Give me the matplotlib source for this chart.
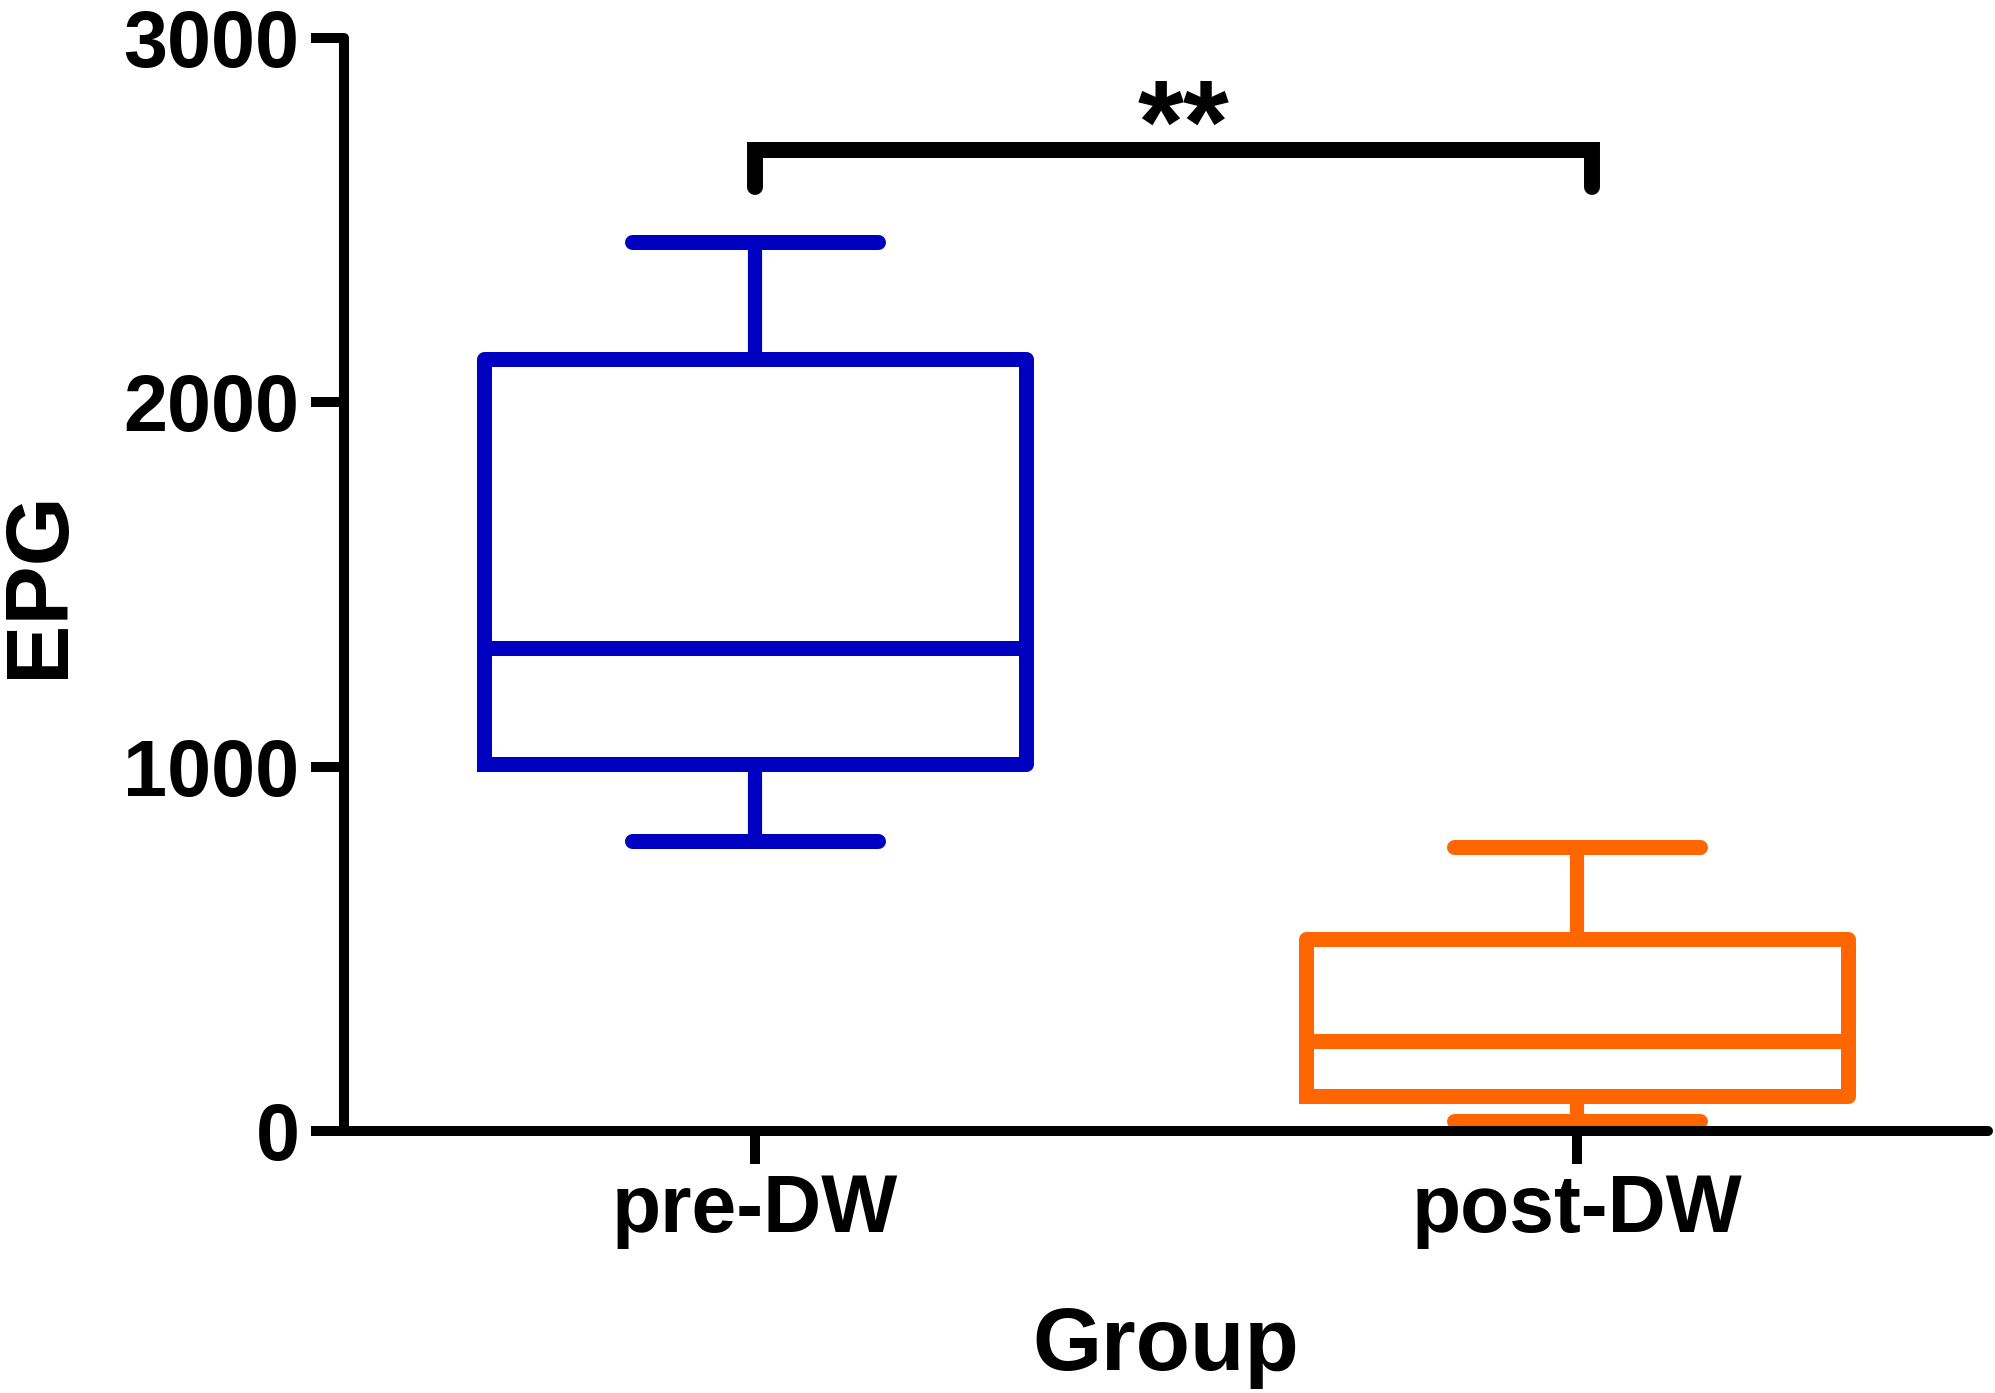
import matplotlib
matplotlib.use("Agg")
import matplotlib.pyplot as plt

# ---- data ----
groups = ["pre-DW", "post-DW"]
whisker_low = [796, 27]
q1 = [1007, 97]
medians = [1326, 247]
q3 = [2119, 526]
whisker_high = [2440, 780]
colors = ["#0000C0", "#FF6600"]
y_ticks = [0, 1000, 2000, 3000]
sig_label = "**"
sig_y = 2693
sig_leg = 2591

plt.rcParams["font.family"] = ["Liberation Sans", "DejaVu Sans"]
plt.rcParams["font.weight"] = "bold"

fig = plt.figure(figsize=(19.95, 13.93), dpi=100)
ax = fig.add_axes([0.1724, 0.1881, 0.8241, 0.7846])

stats = []
for i, g in enumerate(groups):
    stats.append(dict(label=g, med=medians[i], q1=q1[i], q3=q3[i],
                      whislo=whisker_low[i], whishi=whisker_high[i], fliers=[]))

positions = list(range(1, len(groups) + 1))
bp = ax.bxp(stats, positions=positions, widths=0.66, showfliers=False,
            patch_artist=False, manage_ticks=False)

lw_box = 10.8
for i in range(len(groups)):
    c = colors[i]
    box = bp["boxes"][i]
    box.set_color(c); box.set_linewidth(lw_box); box.set_solid_joinstyle("round")
    bp["medians"][i].set_color(c); bp["medians"][i].set_linewidth(lw_box)
    bp["medians"][i].set_solid_capstyle("butt")
    for w in bp["whiskers"][2 * i:2 * i + 2]:
        w.set_color(c); w.set_linewidth(10.2); w.set_solid_capstyle("butt")
    for cp in bp["caps"][2 * i:2 * i + 2]:
        cp.set_color(c); cp.set_linewidth(lw_box); cp.set_solid_capstyle("round")
        xd = cp.get_xdata()
        mid = (xd[0] + xd[1]) / 2
        cp.set_xdata([mid - 0.15, mid + 0.15])

# significance bracket
x1, x2 = positions[0], positions[1] + 0.018
ax.plot([x1, x1, x2, x2], [sig_leg, sig_y, sig_y, sig_leg], color="black",
        lw=11.5, solid_capstyle="round", solid_joinstyle="miter", clip_on=False)
ax.text((x1 + x2) / 2 + 0.012, sig_y - 36, sig_label, ha="center", va="baseline",
        fontsize=85, fontweight="bold")

ax.set_xlim(0.5, 2.5)
ax.set_ylim(0, 3000)
ax.set_yticks(y_ticks)
ax.set_yticklabels([str(t) for t in y_ticks], fontsize=57, fontweight="bold")
ax.set_xticks(positions)
ax.set_xticklabels(groups, fontsize=58, fontweight="bold")

for s in ["top", "right"]:
    ax.spines[s].set_visible(False)
for s in ["left", "bottom"]:
    ax.spines[s].set_linewidth(7.2)
    ax.spines[s].set_capstyle("round")
ax.tick_params(axis="both", length=24, width=7.2, direction="out")
ax.tick_params(axis="y", pad=8)
ax.tick_params(axis="x", pad=6)

ax.set_ylabel("EPG", fontsize=64, fontweight="bold")
ax.yaxis.set_label_coords(-0.185, 0.5)
ax.yaxis.label.set_va("center")
ax.set_xlabel("Group", fontsize=64, fontweight="bold")
ax.xaxis.set_label_coords(0.5, -0.2187)
ax.xaxis.label.set_va("baseline")

fig.savefig("out.png", dpi=100)
